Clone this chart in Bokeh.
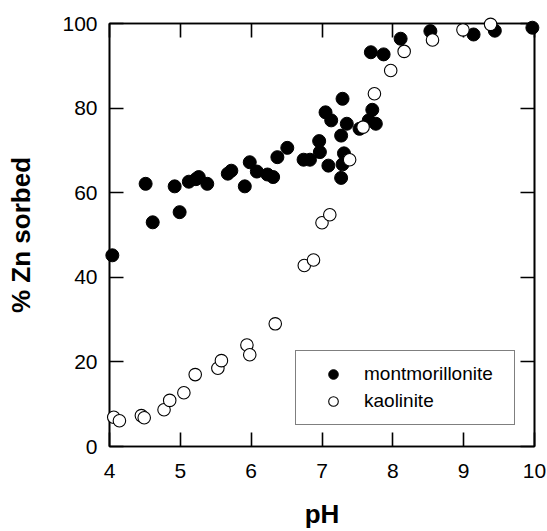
from bokeh.plotting import figure
from bokeh.models import LinearAxis, Legend, LegendItem, FixedTicker, Range1d, CustomLabelingPolicy
from bokeh.embed import file_html
from bokeh.resources import INLINE

# montmorillonite (filled)
mont_ph = [4.04, 4.51, 4.61, 4.92, 4.99, 5.12, 5.22, 5.26, 5.38, 5.67, 5.72, 5.91,
           5.98, 6.08, 6.23, 6.31, 6.37, 6.51, 6.74, 6.83, 6.96, 6.97, 7.05, 7.09,
           7.13, 7.27, 7.29, 7.27, 7.29, 7.31, 7.35, 7.53, 7.66, 7.69, 7.71, 7.76,
           7.87, 8.11, 8.53, 9.14, 9.44, 9.97]
mont_zn = [45.2, 62.1, 53.0, 61.5, 55.4, 62.6, 63.2, 63.7, 62.1, 64.5, 65.2, 61.5,
           67.2, 65.0, 64.3, 63.7, 68.4, 70.6, 67.8, 67.8, 72.2, 69.6, 79.0, 66.4,
           77.1, 73.5, 82.2, 63.5, 66.7, 69.3, 76.3, 75.1, 77.1, 93.2, 79.6, 76.3,
           92.7, 96.4, 98.2, 97.4, 98.3, 99.0]

# kaolinite (open)
kao_ph = [4.06, 4.14, 4.45, 4.49, 4.77, 4.85, 5.05, 5.21, 5.53, 5.58, 5.94, 5.98,
          6.34, 6.75, 6.88, 7.00, 7.11, 7.39, 7.58, 7.74, 7.97, 8.16, 8.56, 8.99, 9.38]
kao_zn = [6.9, 6.1, 7.3, 6.8, 8.7, 10.9, 12.7, 17.0, 18.5, 20.3, 24.0, 21.7,
          29.0, 42.8, 44.1, 52.9, 54.8, 67.8, 75.5, 83.4, 88.9, 93.4, 96.1, 98.5, 99.8]

x_ticks = [4, 5, 6, 7, 8, 9, 10]
y_ticks = [0, 20, 40, 60, 80, 100]

FONT = "Liberation Sans"

p = figure(width=547, height=531, output_backend="svg", toolbar_location=None,
           x_range=Range1d(4, 10), y_range=Range1d(0, 100),
           x_axis_label="pH", y_axis_label="% Zn sorbed",
           min_border_left=109, min_border_right=13, min_border_top=23, min_border_bottom=85)
p.xgrid.visible = False
p.ygrid.visible = False
p.outline_line_color = "black"
p.outline_line_width = 1.6
p.background_fill_color = "white"
p.border_fill_color = "white"

for ax, ticks in ((p.xaxis[0], x_ticks), (p.yaxis[0], y_ticks)):
    ax.ticker = FixedTicker(ticks=ticks)
    ax.major_tick_in = 14
    ax.major_tick_out = 0
    ax.minor_tick_in = 0
    ax.minor_tick_out = 0
    ax.axis_line_width = 1.6
    ax.major_tick_line_width = 1.6
    ax.axis_line_color = "black"
    ax.major_tick_line_color = "black"
    ax.major_label_text_font = FONT
    ax.major_label_text_font_size = "21px"
    ax.major_label_text_color = "black"
    ax.axis_label_text_font = FONT
    ax.axis_label_text_font_size = "26px"
    ax.axis_label_text_font_style = "bold"
    ax.axis_label_text_color = "black"

p.xaxis[0].major_label_standoff = 17
p.yaxis[0].major_label_standoff = 12
p.xaxis[0].axis_label_standoff = 18
p.yaxis[0].axis_label_standoff = 23

hide_labels = "const all = [...indices]; for (const i of all) indices.unset(i); return indices;"

top = LinearAxis(ticker=FixedTicker(ticks=x_ticks), major_tick_in=14, major_tick_out=0,
                 minor_tick_in=0, minor_tick_out=0,
                 major_label_policy=CustomLabelingPolicy(code=hide_labels),
                 major_label_text_font_size="0px",
                 axis_line_width=1.6, major_tick_line_width=1.6, major_label_standoff=0)
right = LinearAxis(ticker=FixedTicker(ticks=y_ticks), major_tick_in=14, major_tick_out=0,
                   minor_tick_in=0, minor_tick_out=0,
                   major_label_policy=CustomLabelingPolicy(code=hide_labels),
                   major_label_text_font_size="0px",
                   axis_line_width=1.6, major_tick_line_width=1.6, major_label_standoff=0)
p.add_layout(top, "above")
p.add_layout(right, "right")

r1 = p.scatter(mont_ph, mont_zn, size=13, marker="circle", fill_color="black",
               line_color="black", line_width=1, level="annotation")
r2 = p.scatter(kao_ph, kao_zn, size=12.5, marker="circle", fill_color="white",
               line_color="black", line_width=1.1, level="annotation")

legend = Legend(items=[LegendItem(label="montmorillonite", renderers=[r1]),
                       LegendItem(label="kaolinite", renderers=[r2])],
                location=(186, 21), orientation="vertical",
                padding=11, margin=0, spacing=3,
                glyph_width=52, glyph_height=24, label_height=24, label_width=139,
                label_standoff=5,
                label_text_font=FONT, label_text_font_size="19px", label_text_color="black",
                border_line_color="black", border_line_width=1.3,
                background_fill_color="white", background_fill_alpha=1.0)
p.add_layout(legend, "center")

open("out.html", "w").write(file_html(p, INLINE))
